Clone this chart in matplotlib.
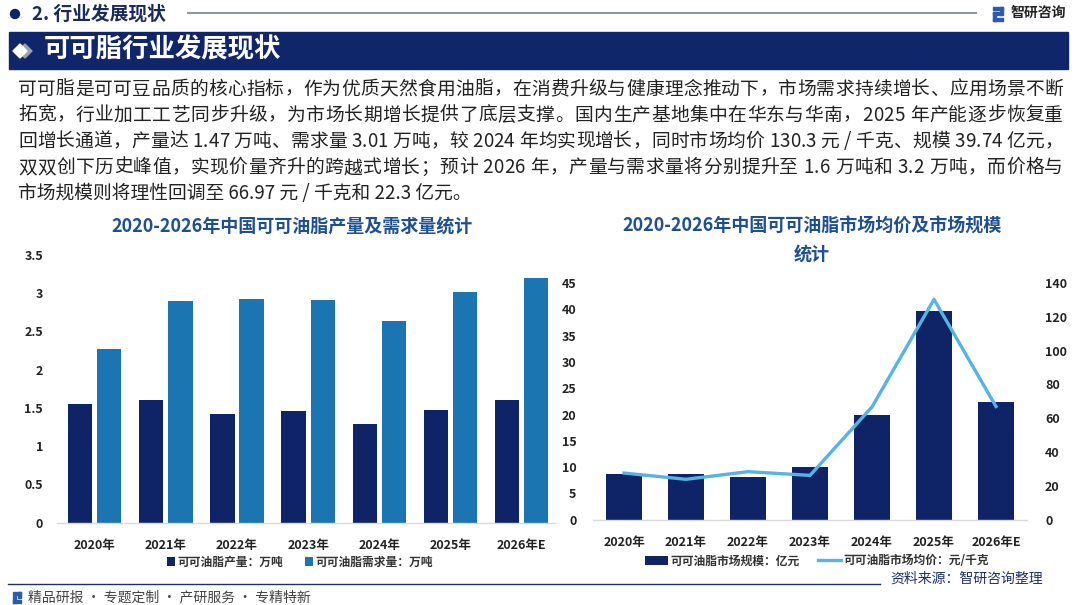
import matplotlib
matplotlib.use("Agg")
import numpy as np
import matplotlib.pyplot as plt
from matplotlib.patches import Rectangle, Circle, Polygon
from matplotlib.lines import Line2D
from matplotlib.font_manager import FontProperties

plt.rcParams['font.family'] = ['Noto Sans CJK SC', 'DejaVu Sans']

# 数据
years = ["2020年", "2021年", "2022年", "2023年", "2024年", "2025年", "2026年E"]
output = [1.55, 1.60, 1.42, 1.46, 1.29, 1.47, 1.60]
demand = [2.27, 2.90, 2.92, 2.91, 2.64, 3.01, 3.20]
market_size = [8.7, 8.75, 8.2, 10.0, 19.85, 39.74, 22.3]
avg_price = [27.6, 23.9, 28.4, 26.2, 66.7, 130.3, 66.97]

left_yticks = [0, 0.5, 1, 1.5, 2, 2.5, 3, 3.5]
right_yticks_l = [0, 5, 10, 15, 20, 25, 30, 35, 40, 45]
right_yticks_r = [0, 20, 40, 60, 80, 100, 120, 140]

para_lines = [
    "可可脂是可可豆品质的核心指标，作为优质天然食用油脂，在消费升级与健康理念推动下，市场需求持续增长、应用场景不断",
    "拓宽，行业加工工艺同步升级，为市场长期增长提供了底层支撑。国内生产基地集中在华东与华南，2025 年产能逐步恢复重",
    "回增长通道，产量达 1.47 万吨、需求量 3.01 万吨，较 2024 年均实现增长，同时市场均价 130.3 元 / 千克、规模 39.74 亿元，",
    "双双创下历史峰值，实现价量齐升的跨越式增长；预计 2026 年，产量与需求量将分别提升至 1.6 万吨和 3.2 万吨，而价格与",
    "市场规模则将理性回调至 66.97 元 / 千克和 22.3 亿元。",
]

NAVY = '#0f2466'
BLUE = '#1b75b1'
LINE_BLUE = '#55b4e6'
TITLE_BLUE = '#1f4f93'
W, H = 1080, 605

fig = plt.figure(figsize=(10.8, 6.05), dpi=100)
fig.patch.set_facecolor('white')
renderer = fig.canvas.get_renderer()

# 背景装饰（像素坐标）
bg = fig.add_axes([0, 0, 1, 1])
bg.set_xlim(0, W)
bg.set_ylim(H, 0)
bg.axis('off')

bg.add_patch(Circle((15, 14), 4.5, color=NAVY))
bg.text(32, 14, "2. 行业发展现状", fontsize=13.5, fontweight='bold', color='#1b2a5e', va='center')
bg.add_line(Line2D([188, 976], [13, 13], color='#8e96a8', lw=1.5))
# 标志
bg.add_patch(Rectangle((993, 7), 10, 3, color='#2a5caa'))
bg.add_patch(Rectangle((1000, 7), 3, 8, color='#2a5caa'))
bg.add_patch(Rectangle((993, 12), 8, 3, color='#2a5caa'))
bg.add_patch(Rectangle((993, 12), 3, 9, color='#2a5caa'))
bg.add_patch(Rectangle((993, 18), 10, 3, color='#2a5caa'))
bg.text(1011, 13, "智研咨询", fontsize=10, fontweight='bold', color='#222222', va='center')

bg.add_patch(Rectangle((9, 32), 1059, 37, color='#10266a'))
bg.add_patch(Polygon([[25, 44], [32, 51], [25, 58], [18, 51]], color='#9aa0ae'))
bg.add_patch(Polygon([[20, 44], [27, 51], [20, 58], [13, 51]], color='white'))
bg.text(44, 50, "可可脂行业发展现状", fontsize=19, fontweight='bold', color='white', va='center')

# 段落：两端对齐
prop = FontProperties(family=['Noto Sans CJK SC', 'DejaVu Sans'], size=13.5)
x_left, x_right = 18, 1063
for i, line in enumerate(para_lines):
    y = 89 + i * 26.2
    if i == len(para_lines) - 1:
        bg.text(x_left, y, line, fontproperties=prop, color='#222222', va='center')
        continue
    widths = [renderer.get_text_width_height_descent(c, prop, ismath=False)[0] for c in line]
    extra = (x_right - x_left - sum(widths)) / (len(line) - 1)
    cx = x_left
    for c, w in zip(line, widths):
        bg.text(cx, y, c, fontproperties=prop, color='#222222', va='center')
        cx += w + extra

bg.text(292, 226, "2020-2026年中国可可油脂产量及需求量统计", fontsize=13, fontweight='bold',
        color=TITLE_BLUE, ha='center', va='center')
bg.text(812, 226, "2020-2026年中国可可油脂市场均价及市场规模", fontsize=13, fontweight='bold',
        color=TITLE_BLUE, ha='center', va='center')
bg.text(812, 254, "统计", fontsize=13, fontweight='bold', color=TITLE_BLUE, ha='center', va='center')

bg.text(1043, 579, "资料来源：智研咨询整理", fontsize=10, color='#1c2f6b', ha='right', va='center')
bg.add_line(Line2D([8, 880], [584, 584], color='#1c2f6b', lw=1))
bg.add_patch(Rectangle((13, 592), 8, 2.5, color='#2a5caa'))
bg.add_patch(Rectangle((18, 592), 3, 6, color='#2a5caa'))
bg.add_patch(Rectangle((13, 596), 3, 7, color='#2a5caa'))
bg.add_patch(Rectangle((13, 600), 8, 2.5, color='#2a5caa'))
bg.text(28, 597, "精品研报 · 专题定制 · 产研服务 · 专精特新", fontsize=10, color='#444444', va='center')


def px_axes(x0, y0, x1, y1):
    return fig.add_axes([x0 / W, 1 - y1 / H, (x1 - x0) / W, (y1 - y0) / H])


def style_axis(ax):
    for s in ['top', 'right', 'left']:
        ax.spines[s].set_visible(False)
    ax.spines['bottom'].set_color('#d9d9d9')
    ax.spines['bottom'].set_linewidth(1)
    ax.tick_params(axis='both', length=0, labelsize=9, colors='#222222')
    for lab in ax.get_xticklabels() + ax.get_yticklabels():
        lab.set_fontweight('bold')


# 左图：产量与需求量
ax1 = px_axes(57, 255, 555, 522.7)
x = np.arange(len(years))
ax1.bar(x - 0.205, output, width=0.34, color=NAVY, label="可可油脂产量：万吨")
ax1.bar(x + 0.205, demand, width=0.34, color=BLUE, label="可可油脂需求量：万吨")
ax1.set_xlim(-0.53, 6.47)
ax1.set_ylim(0, 3.5)
ax1.set_yticks(left_yticks)
ax1.set_yticklabels([f"{v:g}" for v in left_yticks])
ax1.set_xticks(x)
ax1.set_xticklabels(years)
ax1.tick_params(axis='x', pad=12)
ax1.tick_params(axis='y', pad=10)
style_axis(ax1)
leg1 = ax1.legend(loc='center', bbox_to_anchor=(300 / W, 1 - 562 / H), bbox_transform=fig.transFigure,
                  ncol=2, frameon=False, handlelength=0.7, handleheight=0.7, handletextpad=0.2,
                  columnspacing=1.8, prop={'size': 8.5, 'weight': 'bold'})
for t in leg1.get_texts():
    t.set_color('#333333')

# 右图：市场规模与均价
ax2 = px_axes(593, 283, 1027, 519.7)
ax2.bar(x, market_size, width=0.58, color=NAVY, label="可可油脂市场规模：亿元")
ax2.set_xlim(-0.5, 6.5)
ax2.set_ylim(0, 45)
ax2.set_yticks(right_yticks_l)
ax2.set_xticks(x)
ax2.set_xticklabels(years)
ax2.tick_params(axis='x', pad=12)
ax2.tick_params(axis='y', pad=12)
style_axis(ax2)

ax3 = ax2.twinx()
ax3.plot(x, avg_price, color=LINE_BLUE, lw=2.4, label="可可油脂市场均价：元/千克")
ax3.set_ylim(0, 140)
ax3.set_yticks(right_yticks_r)
for s in ['top', 'right', 'left', 'bottom']:
    ax3.spines[s].set_visible(False)
ax3.tick_params(axis='y', length=0, labelsize=9, colors='#222222', pad=13)
for lab in ax3.get_yticklabels():
    lab.set_fontweight('bold')

h2, l2 = ax2.get_legend_handles_labels()
h3, l3 = ax3.get_legend_handles_labels()
leg2 = ax3.legend(h2 + h3, l2 + l3, loc='center', bbox_to_anchor=(817 / W, 1 - 561 / H),
                  bbox_transform=fig.transFigure, ncol=2, frameon=False, handlelength=1.9,
                  handleheight=0.7, handletextpad=0.2, columnspacing=1.6,
                  prop={'size': 8.5, 'weight': 'bold'})
for t in leg2.get_texts():
    t.set_color('#333333')

fig.savefig("out.png", dpi=100)
